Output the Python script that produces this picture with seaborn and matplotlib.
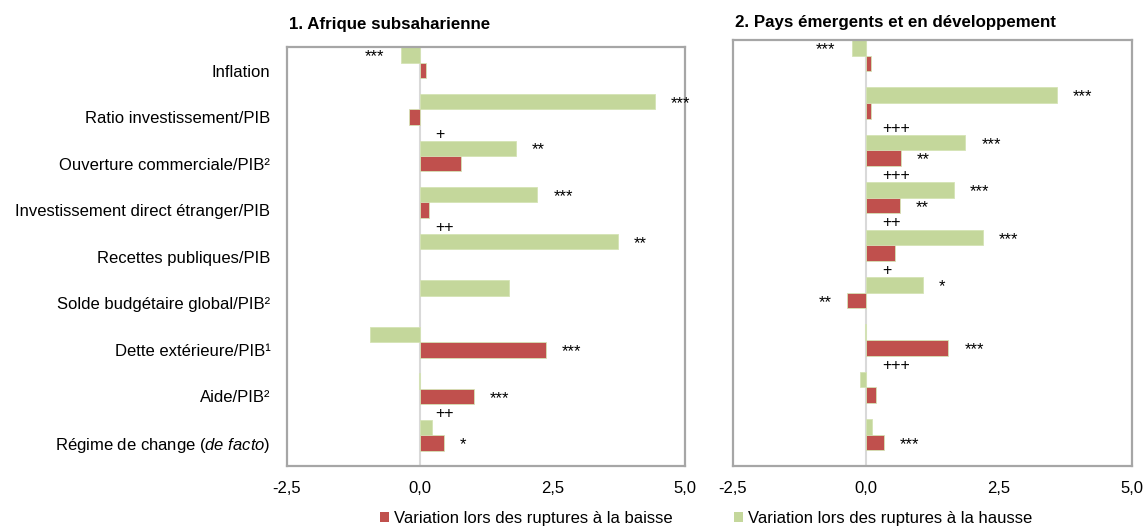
import numpy as np
import pandas as pd
import matplotlib
matplotlib.use("Agg")
import matplotlib.pyplot as plt
from matplotlib import font_manager
from matplotlib.patches import Patch
import seaborn as sns

# -----------------------
# Data
# -----------------------
indicateurs = [
    "Inflation",
    "Ratio investissement/PIB",
    "Ouverture commerciale/PIB²",
    "Investissement direct étranger/PIB",
    "Recettes publiques/PIB",
    "Solde budgétaire global/PIB²",
    "Dette extérieure/PIB¹",
    "Aide/PIB²",
    "Régime de change $\\it{(de\\ facto)}$",
]

# 1. Afrique subsaharienne
afr_hausse = [-0.36, 4.44, 1.81, 2.22, 3.74, 1.69, -0.93, -0.01, 0.24]
afr_baisse = [0.12, -0.20, 0.78, 0.18, 0.00, 0.00, 2.38, 1.02, 0.45]
afr_sig_hausse = ["***", "***", "**", "***", "**", "", "", "", ""]
afr_sig_baisse = ["", "", "", "", "", "", "***", "***", "*"]
afr_plus = ["", "", "+", "", "++", "", "", "", "++"]

# 2. Pays émergents et en développement
emd_hausse = [-0.27, 3.59, 1.87, 1.65, 2.20, 1.07, -0.02, -0.12, 0.12]
emd_baisse = [0.09, 0.10, 0.65, 0.63, 0.55, -0.35, 1.55, 0.18, 0.33]
emd_sig_hausse = ["***", "***", "***", "***", "***", "*", "", "", ""]
emd_sig_baisse = ["", "", "**", "**", "", "**", "***", "", "***"]
emd_plus = ["", "", "+++", "+++", "++", "+", "", "+++", ""]

titres = ["1. Afrique subsaharienne", "2. Pays émergents et en développement"]
leg_baisse = "Variation lors des ruptures à la baisse"
leg_hausse = "Variation lors des ruptures à la hausse"
xticks = [-2.5, 0.0, 2.5, 5.0]

VERT = "#C4D79B"
ROUGE = "#C0504D"


def has_font(name):
    try:
        font_manager.findfont(name, fallback_to_default=False)
        return True
    except ValueError:
        return False


sns.set_style("white")
if has_font("Liberation Sans Narrow"):
    base_font, k = "Liberation Sans Narrow", 1.0
else:
    base_font, k = "Liberation Sans", 0.84
plt.rcParams["font.family"] = [base_font, "DejaVu Sans"]
plt.rcParams["mathtext.fontset"] = "custom"
plt.rcParams["mathtext.rm"] = base_font
plt.rcParams["mathtext.it"] = base_font + ":italic"
for key in ("text.color", "axes.labelcolor", "xtick.color", "ytick.color"):
    plt.rcParams[key] = "black"

LAB = 14.3 * k
TIT = 14.5 * k


def make_df(hausse, baisse):
    return pd.DataFrame({
        "indicateur": indicateurs * 2,
        "valeur": hausse + baisse,
        "rupture": ["hausse"] * len(hausse) + ["baisse"] * len(baisse),
    })


def draw(ax, hausse, baisse, sig_h, sig_b, plus, ylim_top):
    df = make_df(hausse, baisse)
    ax.axvline(0, color="#D9D9D9", lw=1.5, zorder=0)
    sns.barplot(data=df, y="indicateur", x="valeur", hue="rupture",
                hue_order=["hausse", "baisse"],
                palette={"hausse": VERT, "baisse": ROUGE}, saturation=1,
                orient="h", width=0.66, ax=ax, legend=False, zorder=2)
    for p in ax.patches:
        if p.get_facecolor()[0] > 0.7:
            p.set_edgecolor("#D5E3B5")
        else:
            p.set_edgecolor("#D88A88")
        p.set_linewidth(0.6 if abs(p.get_width()) > 0.005 else 0)

    for i in range(len(indicateurs)):
        for v, s, y in ((hausse[i], sig_h[i], i - 0.165), (baisse[i], sig_b[i], i + 0.165)):
            if s:
                if v >= 0:
                    ax.text(v + 0.3, y + 0.04, s, ha="left", va="center",
                            fontsize=12, family="Liberation Sans")
                else:
                    ax.text(v - 0.3, y + 0.04, s, ha="right", va="center",
                            fontsize=12, family="Liberation Sans")
        if plus[i]:
            ax.text(0.3, i - 0.47, plus[i], ha="left", va="center",
                    fontsize=11.5, family="Liberation Sans")

    ax.set_xlim(-2.5, 5.0)
    ax.set_ylim(8.66, ylim_top)
    ax.set_xticks(xticks)
    ax.set_xticklabels([f"{t:.1f}".replace(".", ",") for t in xticks], fontsize=LAB)
    ax.set_xlabel("")
    ax.set_ylabel("")
    ax.tick_params(length=0)
    ax.tick_params(axis="x", pad=11)
    for sp in ax.spines.values():
        sp.set_color("#A6A6A6")
        sp.set_linewidth(1.6)


fig = plt.figure(figsize=(11.46, 5.27), dpi=100)
W, H = 1146, 527
ax1 = fig.add_axes([287 / W, (H - 466) / H, (685 - 287) / W, (466 - 47) / H])
ax2 = fig.add_axes([733 / W, (H - 466) / H, (1132 - 733) / W, (466 - 40) / H])

draw(ax1, afr_hausse, afr_baisse, afr_sig_hausse, afr_sig_baisse, afr_plus, -0.34)
draw(ax2, emd_hausse, emd_baisse, emd_sig_hausse, emd_sig_baisse, emd_plus, -0.33)

ax1.set_yticks(np.arange(len(indicateurs)) + 0.165)
ax1.set_yticklabels(indicateurs, fontsize=LAB)
ax1.tick_params(axis="y", pad=12)
ax2.set_yticks([])

fig.text(289 / W, 1 - 25 / H, titres[0], fontsize=TIT, fontweight="bold",
         ha="left", va="center")
fig.text(735 / W, 1 - 23 / H, titres[1], fontsize=TIT, fontweight="bold",
         ha="left", va="center")

for txt, col, x0 in ((leg_baisse, ROUGE, 380), (leg_hausse, VERT, 734)):
    fig.legend(handles=[Patch(facecolor=col, edgecolor="none", label=txt)],
               loc="center left", bbox_to_anchor=(x0 / W, 1 - 518 / H),
               frameon=False, fontsize=LAB, handlelength=0.55, handleheight=0.55,
               handletextpad=0.3, borderaxespad=0, borderpad=0)

fig.savefig("out.png", dpi=100)
plt.close(fig)
